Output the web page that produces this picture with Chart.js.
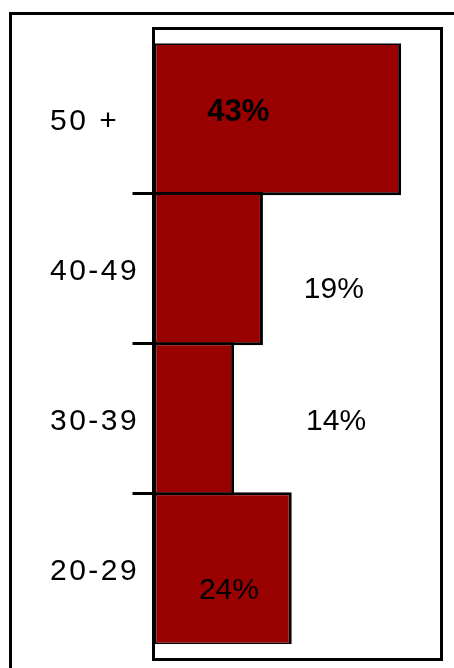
<!DOCTYPE html>
<html>
<head>
<meta charset="utf-8">
<script src="https://cdn.jsdelivr.net/npm/chart.js@4/dist/chart.umd.min.js"></script>
<style>
  html, body { margin: 0; padding: 0; background: #fff; }
  #wrap { width: 454px; height: 668px; }
</style>
</head>
<body>
<div id="wrap"><canvas id="c" width="454" height="668"></canvas></div>
<script>
// Age groups, top to bottom
const ageGroups = ['50 +', '40-49', '30-39', '20-29'];
// Share of each age group, in percent
const shares = [43, 19, 14, 24];
// Value axis range
const axisMin = 0;
const axisMax = 50;

// Where each value label sits: x in axis units, y as a pixel shift from the category centre
const labelAtX = [14.7, 31.3, 31.7, 13.1];
const labelShiftY = [-8.5, 18.5, 0, 19];
const labelBold = [true, false, false, false];

const FONT = "'Liberation Sans', Arial, Helvetica, sans-serif";

// Frames: the outer box and the box round the plot
const framesPlugin = {
  id: 'frames',
  beforeDraw(chart) {
    chart.ctx.letterSpacing = '2.5px';
  },
  beforeDatasetsDraw(chart) {
    chart.ctx.letterSpacing = '0px';
  },
  afterDraw(chart) {
    const { ctx, chartArea } = chart;
    ctx.save();
    ctx.strokeStyle = '#000';
    ctx.lineWidth = 3;
    // outer box, running past the right and bottom edges
    ctx.strokeRect(10.5, 13.5, chart.width + 20, chart.height + 20);
    // plot box
    const top = chartArea.top - 15;
    const bottom = chartArea.bottom + 15.5;
    ctx.strokeRect(chartArea.left, top, chartArea.right - chartArea.left, bottom - top);
    ctx.restore();
  }
};

// Percentage labels
const valueLabelPlugin = {
  id: 'valueLabels',
  afterDatasetsDraw(chart) {
    const { ctx } = chart;
    const xs = chart.scales.x, ys = chart.scales.y;
    ctx.save();
    ctx.letterSpacing = '0px';
    ctx.fillStyle = '#000';
    ctx.textAlign = 'center';
    ctx.textBaseline = 'alphabetic';
    shares.forEach((v, i) => {
      const size = labelBold[i] ? 31 : 30;
      ctx.font = (labelBold[i] ? 'bold ' : '') + size + 'px ' + FONT;
      const x = xs.getPixelForValue(labelAtX[i]);
      const cy = ys.getPixelForValue(i) + labelShiftY[i];
      ctx.fillText(v + '%', x, cy + 0.358 * size);
    });
    ctx.restore();
  }
};

new Chart(document.getElementById('c'), {
  type: 'bar',
  data: {
    labels: ageGroups,
    datasets: [{
      data: shares,
      backgroundColor: '#990000',
      borderColor: '#000',
      borderWidth: 3,
      borderSkipped: false,
      barPercentage: 1.02,
      categoryPercentage: 1
    }]
  },
  options: {
    indexAxis: 'y',
    responsive: false,
    animation: false,
    devicePixelRatio: 1,
    layout: { padding: { left: 50, right: 12.5, top: 43.5, bottom: 24 } },
    plugins: {
      legend: { display: false },
      tooltip: { enabled: false },
      title: { display: false }
    },
    scales: {
      x: {
        display: false,
        min: axisMin,
        max: axisMax
      },
      y: {
        offset: true,
        border: { display: false },
        grid: {
          offset: true,
          drawOnChartArea: false,
          drawTicks: true,
          tickLength: 21,
          lineWidth: 3,
          color: (ctx) => (ctx.type === 'tick' && ctx.index > 0) ? '#000' : 'rgba(0,0,0,0)'
        },
        ticks: {
          crossAlign: 'far',
          color: '#000',
          labelOffset: 3,
          font: { family: FONT, size: 30 }
        },
        afterFit(scale) { scale.width = 103.5; }
      }
    }
  },
  plugins: [framesPlugin, valueLabelPlugin]
});
</script>
</body>
</html>
